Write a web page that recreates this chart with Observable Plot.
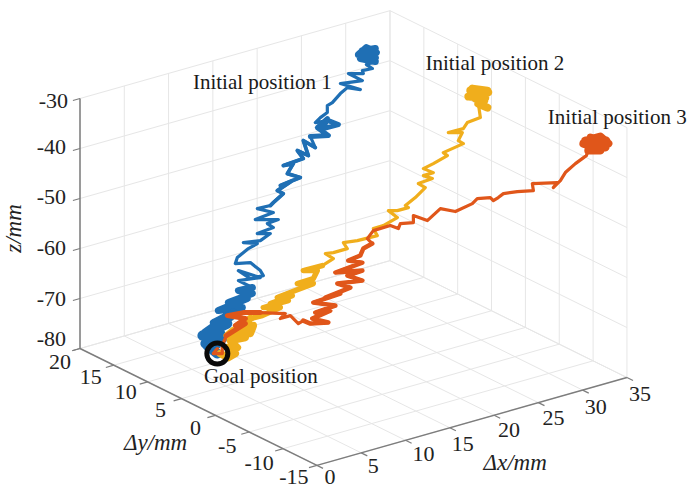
<!DOCTYPE html>
<html>
<head>
<meta charset="utf-8">
<script src="https://cdn.jsdelivr.net/npm/d3@7"></script>
<script src="https://cdn.jsdelivr.net/npm/@observablehq/plot@0.6"></script>
<style>html,body{margin:0;padding:0;background:#fff}svg{display:block}</style>
</head>
<body>
<div id="chart"></div>
<script>
// Axis values
const xTicks = [0, 5, 10, 15, 20, 25, 30, 35];
const yTicks = [20, 15, 10, 5, 0, -5, -10, -15];
const zTicks = [-30, -40, -50, -60, -70, -80];

// Labels
const traceNames = ["Initial position 1", "Initial position 2", "Initial position 3"];
const goalName = "Goal position";
const axisTitles = ["\u0394x/mm", "\u0394y/mm", "z/mm"];

// Goal position (dx, dy, z)
const goal = [9, 11.49, -79.85];

// A single view fixes two coordinates per sample: dx and z are read from the picture,
// dy follows each trajectory's horizontal heading (dy per unit dx, from goal to start).
const heading = [0.1266, -0.4643, -0.9074];

// Trajectory 1 (blue)
const dx1 = [27.13,28.75,28.38,26.63,27.63,28.88,26.88,28.13,28.75,27.5,27.88,28.75,27.63,28.38,27.13,27.25,25.38,27.13,24.38,26.88,25.25,24.38,23.38,22.75,22.75,21.88,21.25,22.88,24.13,22.25,22.75,21.5,22.88,20.63,21.25,19.75,20.38,19,19.75,17.25,18.5,17.75,19.38,16.88,18.38,16.5,17.25,16,15.63,14,16,13.75,16.63,15.25,16,14,15.63,14.38,12.25,14,12.88,11.5,11.25,13.13,14.38,14.75,13.13,11.63,14.38,11.63,13.38,11.63,13.38,10.38,12.75,9.13,12.13,8.5,11,7.5,10.25,7.13,9.38,7.5,9.63,7.88,9,7.75,9];
const z1 = [-29.89,-30.43,-31.61,-30.39,-29.57,-31.31,-31.33,-32.47,-32.23,-30.51,-32.33,-33.03,-32.97,-34.21,-33.89,-34.55,-33.45,-35.89,-34.87,-37.53,-36.19,-36.87,-38.09,-38.31,-39.71,-40.21,-40.83,-41.39,-42.93,-42.63,-40.91,-41.99,-44.39,-43.27,-45.83,-43.55,-46.93,-45.11,-47.15,-47.09,-47.43,-48.99,-50.73,-50.87,-50.75,-51.65,-52.69,-53.75,-54.13,-53.79,-55.75,-55.83,-57.53,-57.51,-58.75,-58.79,-59.73,-60.41,-59.55,-60.79,-61.13,-62.11,-63.17,-64.07,-66.41,-67.63,-67.27,-64.79,-67.81,-66.79,-69.21,-68.79,-70.41,-70.45,-71.05,-71.33,-72.49,-73.35,-73.03,-74.97,-74.59,-75.15,-76.07,-76.97,-77.21,-75.99,-77.85,-77.51,-79.85];

// Trajectory 2 (yellow)
const dx2 = [30.08,31.58,29.92,31.33,30.25,31.5,30.5,31.25,30.92,31.5,30.75,30.92,29.83,29.5,28.25,29.42,29.08,29.5,27.83,28.17,27,26.17,27,26.17,26.92,25.75,26.33,25.5,24.67,24.92,24,23.25,24,22.83,22,22.33,20.67,19.5,19.83,18.67,18,18.67,17.75,16.17,17.33,17,15.67,17,15.5,14,15.25,13.42,14.92,12.83,14.25,12.75,11.75,10.67,12,11.75,10.33,9.83,11.33,10.08,10.67,9.83,10.5,9.92,9.25];
const z2 = [-31.29,-31.99,-32.47,-32.93,-30.93,-31.57,-32.97,-33.53,-34.25,-34.97,-34.03,-36.85,-37.65,-38.79,-39.35,-39.57,-41.11,-41.79,-43.27,-43.93,-45.31,-46.15,-47.11,-47.55,-48.29,-49.07,-49.97,-51.81,-53.25,-53.71,-54.13,-53.99,-55.53,-56.91,-57.35,-58.81,-59.49,-59.67,-60.93,-61.51,-61.57,-62.71,-63.93,-64.63,-64.85,-66.39,-67.13,-67.39,-68.49,-69.61,-69.45,-70.69,-70.39,-71.39,-71.65,-72.97,-73.37,-74.97,-74.83,-76.37,-75.51,-76.41,-77.09,-77.45,-78.97,-78.81,-80.13,-80.83,-79.89];

// Trajectory 3 (red-orange)
const dx3 = [33.53,34.53,35.07,33.87,34.87,33.4,34.4,34.93,34.13,34.53,33.73,33.6,32.87,32.2,31.87,31.4,31.67,30,30.07,29,28.07,27.73,27.4,27.2,26.33,26,24.87,23.87,23,22.07,22.07,21.2,21.07,20.53,19.4,19,19.33,18.73,18.53,17.73,18.67,16.87,18.67,17.67,18.67,17,17.87,16.2,17.2,15.4,16.87,15.53,16.53,15.33,16.4,15.2,14.73,14.4,13.87,13.2,13.53,11.87,10.73,9.67,10.87,10.2,10.87,9.6,9.33,9.33,8.73,9];
const z3 = [-34.69,-33.79,-35.13,-34.07,-35.95,-35.31,-36.21,-34.55,-35.03,-36.59,-36.67,-37.69,-39.37,-41.23,-42.87,-44.31,-43.29,-43.67,-45.05,-45.37,-45.87,-46.69,-47.33,-46.75,-47.05,-48.09,-49.79,-49.31,-51.79,-50.89,-52.29,-52.57,-53.59,-53.05,-54.17,-55.81,-56.77,-57.83,-59.25,-60.35,-60.65,-62.83,-62.25,-63.35,-64.25,-65.01,-65.73,-67.91,-66.99,-68.99,-69.43,-70.97,-70.47,-72.19,-72.87,-73.21,-72.65,-73.29,-71.75,-72.41,-71.37,-71.35,-71.47,-72.19,-72.65,-74.13,-73.65,-76.19,-78.21,-79.81,-79.87,-78.85];

// Colours
const traceColors = ["#1f6fb4", "#f0ae1c", "#e0561a"];

// Stretches where the dithering motion smears the line: [first sample, last sample, width]
const smears = [
  [[0, 11, 7], [27, 33, 5], [34, 48, 3.8], [70, 78, 7], [78, 88, 10]],
  [[0, 10, 8], [42, 56, 5.5], [56, 69, 7.5]],
  [[0, 10, 8], [36, 56, 4.5], [61, 67, 5]]
];

// Orthographic view used for the 3D box
const proj = (x, y, z) => ({
  h: 79.5 + (20 - y) * 6.77 + x * 8.857,
  v: 348 + (20 - y) * 3.34 - x * 2.51 - (z + 80) * 5
});
const X0 = xTicks[0], X1 = xTicks[xTicks.length - 1];
const Y0 = yTicks[0], Y1 = yTicks[yTicks.length - 1];
const Zb = zTicks[zTicks.length - 1], Zt = zTicks[0];
const seg = (a, b) => {
  const p = proj(...a), q = proj(...b);
  return {x1: p.h, y1: p.v, x2: q.h, y2: q.v};
};

const grid = [
  ...zTicks.flatMap(z => [seg([X0, Y0, z], [X1, Y0, z]), seg([X1, Y0, z], [X1, Y1, z])]),
  ...xTicks.flatMap(x => [seg([x, Y0, Zb], [x, Y0, Zt]), seg([x, Y0, Zb], [x, Y1, Zb])]),
  ...yTicks.flatMap(y => [seg([X1, y, Zb], [X1, y, Zt]), seg([X0, y, Zb], [X1, y, Zb])])
];
const axes = [
  seg([X0, Y0, Zb], [X0, Y0, Zt]),
  seg([X0, Y0, Zb], [X0, Y1, Zb]),
  seg([X0, Y1, Zb], [X1, Y1, Zb])
];
const ticks = [
  ...zTicks.map(z => seg([X0, Y0, z], [X0 - 0.8, Y0, z])),
  ...yTicks.map(y => seg([X0, y, Zb], [X0 - 0.9, y, Zb])),
  ...xTicks.map(x => seg([x, Y1, Zb], [x, Y1 - 0.9, Zb]))
];

// Tick label offsets from the axis (style, not data)
const zOff = [[-12, 2], [-14, -2], [-14, -2], [-14, -1], [-14, 0], [-14, -10]];
const yOff = [[-20, 13], [-23, 12], [-22, 10], [-21, 11], [-20, 13], [-22, 14], [-24, 14], [-23, 12]];
const xOff = [[13, 12], [12, 13], [18, 14], [13, 16], [15, 15], [15, 15], [13, 17], [13, 16]];
const tickLabel = (v, p, o) => ({text: String(v), x: p.h + o[0], y: p.v + o[1]});
const zLabels = zTicks.map((z, i) => tickLabel(z, proj(X0, Y0, z), zOff[i]));
const yLabels = yTicks.map((y, i) => tickLabel(y, proj(X0, y, Zb), yOff[i]));
const xLabels = xTicks.map((x, i) => tickLabel(x, proj(x, Y1, Zb), xOff[i]));

const traceRows = (dx, z, i) => dx.map((x, k) => {
  const p = proj(x, goal[1] + heading[i] * (x - goal[0]), z[k]);
  return {x: p.h, y: p.v, s: i};
});
const traces = [traceRows(dx1, z1, 0), traceRows(dx2, z2, 1), traceRows(dx3, z3, 2)];
const g = proj(...goal);

const nameOff = [[-100, 32], [24.5, -27], [32, -23]];
const notes = [
  ...traceNames.map((t, i) => ({text: t, x: traces[i][0].x + nameOff[i][0], y: traces[i][0].y + nameOff[i][1]})),
  {text: goalName, x: g.h + 43.5, y: g.v + 23}
];

const lineOf = (rows, color, w) => Plot.line(rows, {x: "x", y: "y", stroke: color, strokeWidth: w, strokeLinejoin: "round", strokeLinecap: "round"});
const serif = "'Liberation Serif','Times New Roman',serif";
const tickFont = {fontFamily: serif, fontSize: 22, fill: "#222"};
const titleFont = {fontFamily: serif, fontStyle: "italic", fontSize: 23, fill: "#222"};
const chart = Plot.plot({
  width: 687, height: 489,
  marginTop: 0, marginRight: 0, marginBottom: 0, marginLeft: 0,
  x: {domain: [0, 687], range: [0, 687], axis: null},
  y: {domain: [0, 489], range: [0, 489], axis: null},
  style: {background: "#fff"},
  marks: [
    Plot.link(grid, {x1: "x1", y1: "y1", x2: "x2", y2: "y2", stroke: "#e6e6e6", strokeWidth: 1}),
    Plot.link(axes, {x1: "x1", y1: "y1", x2: "x2", y2: "y2", stroke: "#7d7d7d", strokeWidth: 1.5}),
    Plot.link(ticks, {x1: "x1", y1: "y1", x2: "x2", y2: "y2", stroke: "#7d7d7d", strokeWidth: 1.2}),
    ...traces.flatMap((rows, i) => [
      lineOf(rows, traceColors[i], 3.2),
      ...smears[i].map(([a, b, w]) => lineOf(rows.slice(a, b + 1), traceColors[i], w))
    ]),
    Plot.dot([g], {x: "h", y: "v", r: 10.5, stroke: "#0a0a0a", strokeWidth: 5, fill: "none"}),
    Plot.text(zLabels, {x: "x", y: "y", text: "text", textAnchor: "end", ...tickFont}),
    Plot.text(yLabels, {x: "x", y: "y", text: "text", ...tickFont}),
    Plot.text(xLabels, {x: "x", y: "y", text: "text", ...tickFont}),
    Plot.text(notes, {x: "x", y: "y", text: "text", fontFamily: serif, fontSize: 21, fill: "#1a1a1a"}),
    Plot.text([axisTitles[0]], {x: () => proj(20, Y1, Zb).h + 21, y: () => proj(20, Y1, Zb).v + 47, text: d => d, ...titleFont}),
    Plot.text([axisTitles[1]], {x: () => proj(X0, 5, Zb).h - 26, y: () => proj(X0, 5, Zb).v + 44, text: d => d, ...titleFont}),
    Plot.text([axisTitles[2]], {x: () => 13, y: () => proj(X0, Y0, -56).v, text: d => d, rotate: -90, ...titleFont})
  ]
});
document.getElementById("chart").appendChild(chart);
</script>
</body>
</html>
